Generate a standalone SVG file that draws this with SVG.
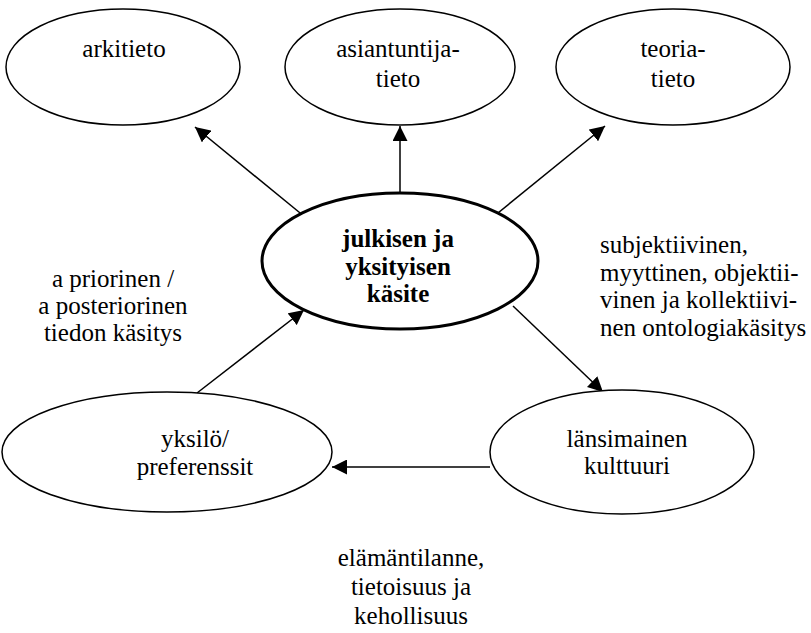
<svg xmlns="http://www.w3.org/2000/svg" width="811" height="633" viewBox="0 0 811 633">
<defs>
<marker id="ah" viewBox="0 0 15 15" refX="15" refY="7.5" markerWidth="15" markerHeight="15" markerUnits="userSpaceOnUse" orient="auto">
<path d="M0,0 L15,7.5 L0,15 Z" fill="#000"/>
</marker>
</defs>
<style>
.n{fill:#fff;stroke:#000;stroke-width:1.5}
.c{fill:#fff;stroke:#000;stroke-width:3}
text{font-family:"Liberation Serif","DejaVu Serif","Times New Roman",Times,serif;font-size:25px;fill:#000;text-anchor:middle}
.b{font-weight:bold}
.l{text-anchor:start}
.e{stroke:#000;stroke-width:1.5;fill:none;marker-end:url(#ah)}
</style>
<rect width="811" height="633" fill="#fff"/>
<g id="connectors">
<line class="e" x1="305" y1="217" x2="195" y2="127"/>
<line class="e" x1="400" y1="194" x2="400" y2="126"/>
<line class="e" x1="493" y1="217" x2="605" y2="126"/>
<line class="e" x1="197" y1="393" x2="304" y2="310"/>
<line class="e" x1="513" y1="306" x2="603" y2="392"/>
<line class="e" x1="490" y1="467" x2="332" y2="467"/>
</g>
<g id="arkitieto">
<ellipse class="n" cx="123" cy="67" rx="117" ry="58"/>
<text x="124" y="57">arkitieto</text>
</g>
<g id="asiantuntijatieto">
<ellipse class="n" cx="400" cy="67" rx="115" ry="58"/>
<text x="398" y="57">asiantuntija-</text>
<text x="398" y="87">tieto</text>
</g>
<g id="teoriatieto">
<ellipse class="n" cx="673" cy="67" rx="117" ry="58"/>
<text x="673" y="57">teoria-</text>
<text x="673" y="87">tieto</text>
</g>
<g id="kasite">
<ellipse class="c" cx="400" cy="261" rx="138" ry="68"/>
<text class="b" x="398" y="247">julkisen ja</text>
<text class="b" x="398" y="275">yksityisen</text>
<text class="b" x="398" y="302">käsite</text>
</g>
<g id="yksilo">
<ellipse class="n" cx="167" cy="452" rx="165" ry="60"/>
<text x="195" y="447">yksilö/</text>
<text x="195" y="475">preferenssit</text>
</g>
<g id="lansimainen">
<ellipse class="n" cx="622" cy="452" rx="132" ry="62"/>
<text x="627" y="447">länsimainen</text>
<text x="627" y="474">kulttuuri</text>
</g>
<g id="labels">
<text x="113" y="287">a priorinen /</text>
<text x="113" y="314">a posteriorinen</text>
<text x="113" y="341">tiedon käsitys</text>
<text class="l" x="600" y="253">subjektiivinen,</text>
<text class="l" x="600" y="281">myyttinen, objektii-</text>
<text class="l" x="600" y="308">vinen ja kollektiivi-</text>
<text class="l" x="600" y="336">nen ontologiakäsitys</text>
<text x="411" y="566">elämäntilanne,</text>
<text x="411" y="595">tietoisuus ja</text>
<text x="411" y="624">kehollisuus</text>
</g>
</svg>
